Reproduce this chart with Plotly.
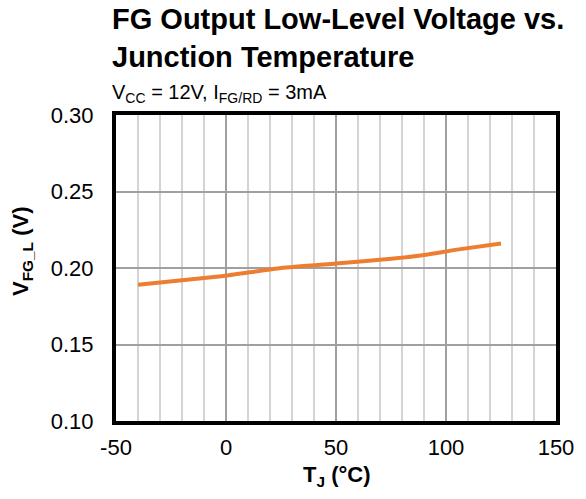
import plotly.graph_objects as go

# Junction temperature (°C) and FG output low-level voltage (V)
temp_c = [-40, -20, 0, 25, 50, 75, 90, 105, 125]
vfg_l = [0.189, 0.192, 0.195, 0.200, 0.203, 0.206, 0.2085, 0.212, 0.216]

x_ticks = [-50, 0, 50, 100, 150]
y_ticks = [0.10, 0.15, 0.20, 0.25, 0.30]

FONT = "Liberation Sans, Arial, sans-serif"
W, H = 586, 499
ML, MR, MT, MB = 116, 30, 115, 78

fig = go.Figure()
fig.add_trace(go.Scatter(
    x=temp_c, y=vfg_l, mode="lines",
    line=dict(color="#ED7D31", width=4, shape="spline", smoothing=0.5),
    showlegend=False, hoverinfo="skip",
))

fig.update_xaxes(
    range=[-50, 150], tickvals=x_ticks, ticktext=[str(v) for v in x_ticks],
    showgrid=True, gridcolor="#A0A0A0", gridwidth=1.5,
    minor=dict(dtick=10, showgrid=True, gridcolor="#D4D4D4", gridwidth=1.5),
    showline=True, linecolor="black", linewidth=4, mirror=True,
    ticks="", zeroline=False, ticklabelstandoff=4,
    tickfont=dict(family=FONT, size=22, color="black"),
)
fig.update_yaxes(
    range=[0.10, 0.30], tickvals=y_ticks, ticktext=[f"{v:.2f}" for v in y_ticks],
    showgrid=True, gridcolor="#A0A0A0", gridwidth=1.5,
    showline=True, linecolor="black", linewidth=4, mirror=True,
    ticks="", zeroline=False, ticklabelstandoff=14,
    tickfont=dict(family=FONT, size=22, color="black"),
)

fig.update_layout(
    width=W, height=H,
    margin=dict(l=ML, r=MR, t=MT, b=MB),
    paper_bgcolor="white", plot_bgcolor="white",
    font=dict(family=FONT, color="black"),
)

# Titles and axis labels placed in pixel terms relative to the plot area
plot_w = W - ML - MR
plot_h = H - MT - MB

def px(xp):
    return (xp - ML) / plot_w

def py(yp):
    return (H - MB - yp) / plot_h

fig.add_annotation(text="<b>FG Output Low-Level Voltage vs.<br>Junction Temperature</b>",
                   x=px(110), y=py(1), xref="paper", yref="paper",
                   xanchor="left", yanchor="top", align="left", showarrow=False,
                   font=dict(family=FONT, size=29, color="black"))
fig.add_annotation(text="V<sub>CC</sub> = 12V, I<sub>FG/RD</sub> = 3mA",
                   x=px(110), y=py(108), xref="paper", yref="paper",
                   xanchor="left", yanchor="bottom", align="left", showarrow=False,
                   font=dict(family=FONT, size=20, color="black"))
fig.add_annotation(text="<b>V<sub>FG_L</sub> (V)</b>", textangle=-90,
                   x=px(22), y=py(252), xref="paper", yref="paper",
                   xanchor="center", yanchor="middle", showarrow=False,
                   font=dict(family=FONT, size=22, color="black"))
fig.add_annotation(text="<b>T<sub>J</sub> (°C)</b>",
                   x=px(336), y=py(476), xref="paper", yref="paper",
                   xanchor="center", yanchor="middle", showarrow=False,
                   font=dict(family=FONT, size=22, color="black"))

fig.write_html("out.html")
